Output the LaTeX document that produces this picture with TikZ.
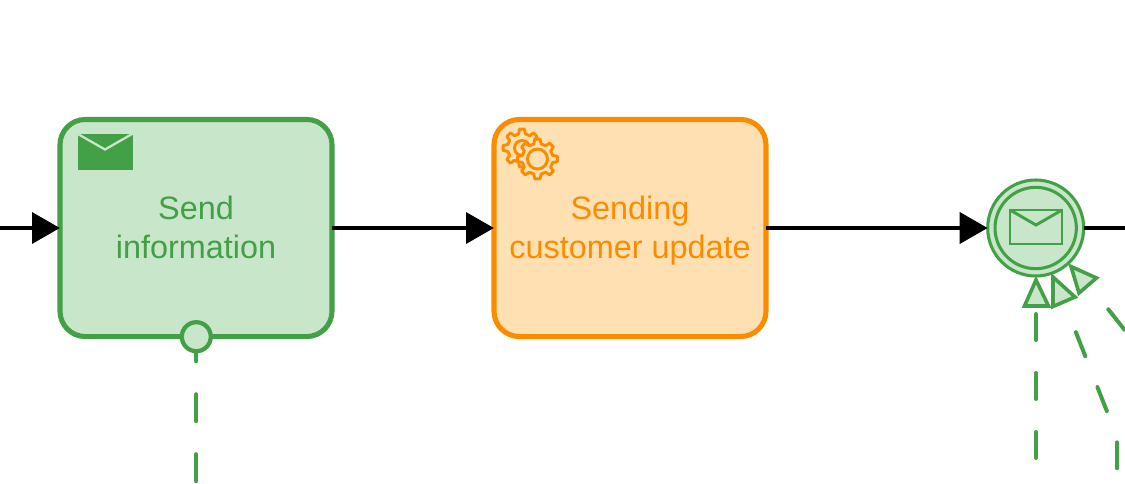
\documentclass[tikz,border=0pt]{standalone}
\usepackage{fontspec}
\setmainfont{Liberation Sans}
\usetikzlibrary{arrows.meta}
\definecolor{gstroke}{HTML}{43A047}
\definecolor{gfill}{HTML}{C8E6C9}
\definecolor{ostroke}{HTML}{FB8C00}
\definecolor{ofill}{HTML}{FFE0B2}
\newcommand{\gearicon}[8]{% cx cy Router Rinner Rhole teeth stroke fill
  \pgfmathsetmacro{\gstep}{360/#6}
  \filldraw[draw=#7,fill=#8,line width=2.2pt,line join=round]
    ({#1+#3*cos(0-\gstep*0.17)},{#2+#3*sin(0-\gstep*0.17)})
    \foreach \k in {0,...,\numexpr#6-1\relax}{
      -- ({#1+#3*cos(\k*\gstep-\gstep*0.17)},{#2+#3*sin(\k*\gstep-\gstep*0.17)})
      -- ({#1+#3*cos(\k*\gstep+\gstep*0.17)},{#2+#3*sin(\k*\gstep+\gstep*0.17)})
      -- ({#1+#4*cos(\k*\gstep+\gstep*0.30)},{#2+#4*sin(\k*\gstep+\gstep*0.30)})
      -- ({#1+#4*cos(\k*\gstep+\gstep*0.70)},{#2+#4*sin(\k*\gstep+\gstep*0.70)})
    } -- cycle;
  \draw[#7,line width=2.2pt] (#1,#2) circle[radius=#5];
}
\newcommand{\firstline}{\rule{0pt}{21.5pt}}
\newcommand{\lastline}{\vphantom{p}}
\tikzset{
  x=0.75pt,y=-0.75pt,
  task/.style={draw,rounded corners=19pt,line width=3.8pt,minimum width=204pt,minimum height=162.8pt,
    inner sep=0pt,outer sep=0pt,align=center,font=\fontsize{24.3}{29.3}\selectfont},
  greentask/.style={task,draw=gstroke,fill=gfill,text=gstroke},
  orangetask/.style={task,draw=ostroke,fill=ofill,text=ostroke},
  flow/.style={line width=3.5pt,black,-{Triangle[length=21pt,width=23pt]}},
  flowend/.style={line width=3.5pt,black},
  msg/.style={gstroke,line width=3pt,line cap=round},
  eventring/.style={circle,draw=gstroke,line width=2.3pt,inner sep=0pt,outer sep=0pt},
  marker/.style={draw=gstroke,fill=gfill,line width=2.7pt,line join=miter},
}
\begin{document}
\begin{tikzpicture}
\useasboundingbox (0,0) rectangle (1125,483);
\coordinate (flowin) at (-5,228);
\coordinate (flowout) at (1125,228);
\node[greentask] (send) at (196,228) {\firstline Send\\information\lastline};
\node[orangetask] (update) at (630,228) {\firstline Sending\\customer update\lastline};
\node[eventring,fill=gfill,minimum size=72pt] (event) at (1035.7,228) {};
\node[eventring,minimum size=61pt] (eventinner) at (1035.7,228) {};
\node[circle,draw=gstroke,fill=gfill,line width=3.2pt,inner sep=0pt,outer sep=0pt,minimum size=21.75pt] (boundary) at (196.3,336.7) {};
% sequence flows
\draw[flow] (flowin) -- (send.west);
\draw[flow] (send.east) -- (update.west);
\draw[flow] (update.east) -- (event.west);
\draw[flowend] (event.east) -- (flowout);
% mail icon of the send task
\fill[gstroke] (78,134) rectangle (132.5,170);
\draw[gfill,line width=1.7pt] (77,133.5) -- (105,149.5) -- (133,133.5);
% gears of the service task
\gearicon{522}{148}{19}{14.5}{7.5}{8}{ostroke}{ofill}
\gearicon{537.5}{159}{20}{15.5}{10}{8}{ostroke}{ofill}
% envelope of the event
\draw[gstroke,line width=2.2pt,line join=miter] (1010,210) rectangle (1062,244);
\draw[gstroke,line width=2.2pt] (1010,210) -- (1036,225) -- (1062,210);
% incoming message markers
\filldraw[marker] (1036,280) -- (1048.5,306) -- (1024.5,306) -- cycle;
\filldraw[marker] (1053,277) -- (1075,297) -- (1053,306.5) -- cycle;
\filldraw[marker] (1071,266.5) -- (1096.5,278) -- (1079,293) -- cycle;
% message flows
\coordinate (msgA) at (1036,307);
\coordinate (msgAend) at (1036,483);
\coordinate (msgB) at (1064,302);
\coordinate (msgBbend) at (1117,437);
\coordinate (msgBend) at (1117,483);
\coordinate (msgC) at (1089,285);
\coordinate (msgCend) at (1135,343);
\coordinate (boundaryend) at (196.3,483);
\draw[msg,dash pattern=on 20.25pt off 24.75pt,dash phase=12.75pt] (boundary.south) -- (boundaryend);
\draw[msg,dash pattern=on 19.5pt off 24.75pt,dash phase=39pt] (msgA) -- (msgAend);
\draw[msg,dash pattern=on 19.5pt off 24.75pt,dash phase=20pt] (msgB) -- (msgBbend) -- (msgBend);
\draw[msg,dash pattern=on 19.5pt off 24.75pt,dash phase=21pt] (msgC) -- (msgCend);
\end{tikzpicture}
\end{document}
